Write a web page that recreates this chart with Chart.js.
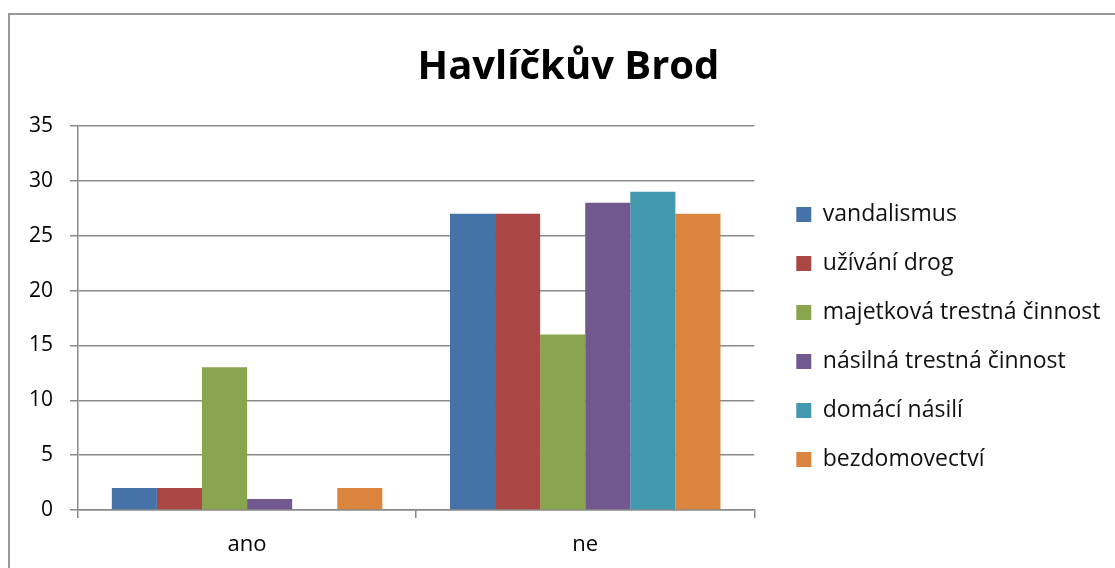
<!DOCTYPE html>
<html>
<head>
<meta charset="utf-8">
<title>Havlíčkův Brod</title>
<script src="https://cdn.jsdelivr.net/npm/chart.js@4.4.1/dist/chart.umd.min.js"></script>
<style>
  html, body { margin: 0; padding: 0; background: #fff; overflow: hidden; }
  #frame { position: absolute; left: 8px; top: 13px; width: 1200px; height: 700px; border: 2px solid #999; }
  #chart { position: absolute; left: 0; top: 0; }
</style>
</head>
<body>
<div id="frame"></div>
<canvas id="chart" width="1115" height="568"></canvas>
<script>
// Chart data
const categories = ['ano', 'ne'];
const seriesNames = ['vandalismus', 'užívání drog', 'majetková trestná činnost', 'násilná trestná činnost', 'domácí násilí', 'bezdomovectví'];
const vandalismus = [2, 27];
const uzivaniDrog = [2, 27];
const majetkova = [13, 16];
const nasilna = [1, 28];
const domaciNasili = [0, 29];
const bezdomovectvi = [2, 27];
const colors = ['#4572a7', '#aa4643', '#89a54e', '#71588f', '#4198af', '#db843d'];

const values = [vandalismus, uzivaniDrog, majetkova, nasilna, domaciNasili, bezdomovectvi];

// small layout tweaks after Chart.js has placed the boxes
const fineTune = {
  id: 'fineTune',
  afterLayout(chart) {
    // let the y labels use the space left of the axis box
    if (chart.scales.y) chart.scales.y.left = 0;
    // nudge the legend into place
    const lg = chart.legend;
    if (!lg) return;
    const dx = 16, dy = 53;
    lg.left += dx; lg.right += dx;
    lg.top += dy; lg.bottom += dy;
  }
};

function drawChart() {
  const ctx = document.getElementById('chart');
  new Chart(ctx, {
    type: 'bar',
    data: {
      labels: categories,
      datasets: seriesNames.map((name, i) => ({
        label: name,
        data: values[i],
        backgroundColor: colors[i],
        borderWidth: 0,
        categoryPercentage: 0.8,
        barPercentage: 1.0
      }))
    },
    plugins: [fineTune],
    options: {
      responsive: false,
      animation: false,
      layout: {
        padding: { left: 42.5, right: 20.5, top: 0, bottom: 0 }
      },
      plugins: {
        title: {
          display: true,
          text: 'Havlíčkův Brod',
          color: '#000',
          font: { family: 'Open Sans', size: 40, weight: 'bold', lineHeight: 1.2 },
          padding: { top: 44, bottom: 34 }
        },
        legend: {
          display: true,
          position: 'right',
          align: 'center',
          maxWidth: 420,
          labels: {
            color: '#111',
            boxWidth: 15,
            boxHeight: 15,
            padding: 26,
            font: { family: 'Open Sans', size: 23 }
          }
        },
        tooltip: { enabled: false }
      },
      scales: {
        x: {
          grid: {
            display: true,
            drawOnChartArea: false,
            drawTicks: true,
            tickLength: 8,
            color: '#8a8a8a',
            lineWidth: 1.5
          },
          border: { color: '#8a8a8a', width: 1.5 },
          ticks: {
            color: '#000',
            padding: 14,
            font: { family: 'Open Sans', size: 22 }
          },
          afterFit(scale) { scale.height = 58; }
        },
        y: {
          min: 0,
          max: 35,
          ticks: {
            stepSize: 5,
            color: '#000',
            padding: 17,
            font: { family: 'Open Sans', size: 21 }
          },
          grid: {
            color: '#8a8a8a',
            lineWidth: 1.5,
            tickLength: 8
          },
          border: { color: '#8a8a8a', width: 1.5 },
          afterFit(scale) { scale.width = 35.5; }
        }
      }
    }
  });
}

// make sure the installed fonts are measured correctly
Promise.all([
  document.fonts.load('23px "Open Sans"'),
  document.fonts.load('bold 40px "Open Sans"')
]).then(drawChart, drawChart);
</script>
</body>
</html>
